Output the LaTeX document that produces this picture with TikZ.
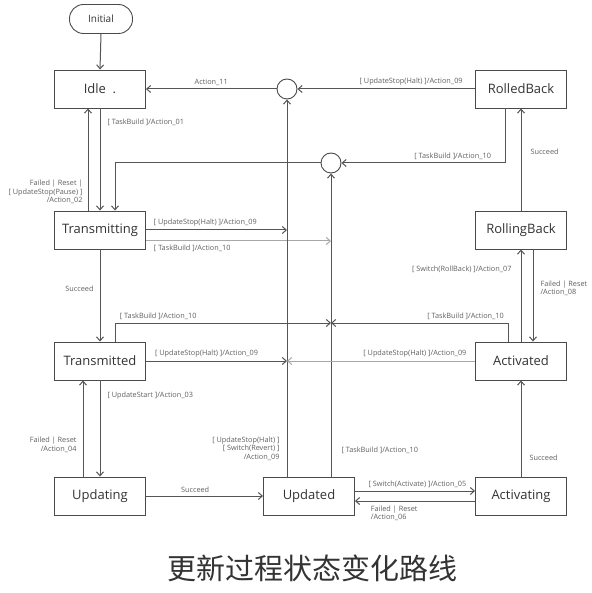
\documentclass[tikz,border=0pt]{standalone}
\usepackage{fontspec}
\setmainfont{Open Sans}
\newfontfamily\cjk{Noto Sans CJK SC}
\usetikzlibrary{arrows.meta}
\definecolor{boxc}{HTML}{4A4A4A}
\definecolor{linec}{HTML}{555555}
\definecolor{lightc}{HTML}{A8A8A8}
\definecolor{txt}{HTML}{333333}
\definecolor{lblc}{HTML}{606060}
\tikzset{
  state/.style={draw=boxc, line width=0.9pt, minimum width=91pt, minimum height=38pt, inner sep=0pt, font=\fontsize{13}{15}\selectfont, text=txt},
  initstate/.style={draw=boxc, line width=0.9pt, rounded corners=14pt, minimum width=63pt, minimum height=29pt, inner sep=0pt, font=\fontsize{10}{12}\selectfont, text=txt},
  junc/.style={circle, draw=boxc, line width=0.9pt, minimum size=20pt, inner sep=0pt},
  conn/.style={draw=linec, line width=1pt, -{Straight Barb[length=4pt,width=7pt]}},
  lightconn/.style={draw=lightc, line width=1pt, -{Straight Barb[length=4pt,width=7pt]}},
  lbl/.style={font=\fontsize{7.3}{8.4}\selectfont, text=lblc, inner sep=1pt}
}
\begin{document}
\begin{tikzpicture}[x=1pt,y=-1pt]
\useasboundingbox (0,0) rectangle (591,593);
\fill[white] (0,0) rectangle (591,593);
% states
\node[initstate] (init) at (101,19) {Initial};
\node[state] (idle) at (100,89) {Idle~~.};
\node[state] (rb) at (521,89) {RolledBack};
\node[state] (tr) at (100,230) {Transmitting};
\node[state] (rolling) at (521,230) {RollingBack};
\node[state] (trd) at (100,361) {Transmitted};
\node[state] (act) at (521,361) {Activated};
\node[state] (ug) at (100,496) {Updating};
\node[state] (upd) at (309,496) {Updated};
\node[state] (acting) at (521,496) {Activating};
\node[junc] (c1) at (287,89) {};
\node[junc] (c2) at (331,163) {};
% junction points on the vertical lines
\coordinate (j1) at (287,230);
\coordinate (j2) at (331,241);
\coordinate (j3) at (331,323);
\coordinate (j5) at (287,361);
% connectors
\draw[conn] (init.south) -- (idle.north);
\draw[conn] (c1.west) -- node[lbl, pos=0.5, above=2pt] {Action\_11} (idle.east);
\draw[conn] (rb.west) -- node[lbl, pos=0.36, above=2pt] {{[} UpdateStop(Halt) ]/Action\_09} (c1.east);
\draw[conn] (idle.south) -- node[lbl, pos=0.14, anchor=west, xshift=6pt] {{[} TaskBuild ]/Action\_01} (tr.north);
\draw[conn] ([xshift=-12pt]tr.north) -- node[lbl, pos=0.18, anchor=east, xshift=-4pt, align=right] {Failed | Reset |\\{[} UpdateStop(Pause) ]\\/Action\_02} ([xshift=-12pt]idle.south);
\draw[conn] ([xshift=-16pt]rb.south) |- node[lbl, pos=0.66, above=2pt] {{[} TaskBuild ]/Action\_10} (c2.east);
\draw[conn] (c2.west) -| ([xshift=15pt]tr.north);
\draw[conn] (tr.east) -- node[lbl, pos=0.42, above=2pt] {{[} UpdateStop(Halt) ]/Action\_09} (j1);
\draw[lightconn] ([yshift=-11pt]tr.east) -- node[lbl, pos=0.25, below=2pt] {{[} TaskBuild ]/Action\_10} (j2);
\draw[conn] ([xshift=-22pt]upd.north) -- node[lbl, pos=0.074, anchor=east, xshift=-6pt, align=right] {{[} UpdateStop(Halt) ]\\{[} Switch(Revert) ]\\/Action\_09} (c1.south);
\draw[conn] ([xshift=22pt]upd.north) -- node[lbl, pos=0.086, anchor=west, xshift=9pt] {{[} TaskBuild ]/Action\_10} (c2.south);
\draw[conn] (tr.south) -- node[lbl, pos=0.43, anchor=east, xshift=-5pt] {Succeed} (trd.north);
\draw[conn] ([xshift=15pt]trd.north) |- node[lbl, pos=0.6, above=2pt] {{[} TaskBuild ]/Action\_10} (j3);
\draw[conn] ([xshift=-13pt]act.north) |- node[lbl, pos=0.62, above=2pt] {{[} TaskBuild ]/Action\_10} (j3);
\draw[conn] (trd.east) -- node[lbl, pos=0.43, above=2pt] {{[} UpdateStop(Halt) ]/Action\_09} (j5);
\draw[lightconn] (act.west) -- node[lbl, pos=0.32, above=2pt] {{[} UpdateStop(Halt) ]/Action\_09} (j5);
\draw[conn] (trd.south) -- node[lbl, pos=0.16, anchor=west, xshift=6pt] {{[} UpdateStart ]/Action\_03} (ug.north);
\draw[conn] ([xshift=-17pt]ug.north) -- node[lbl, pos=0.33, anchor=east, xshift=-5pt, align=right] {Failed | Reset\\/Action\_04} ([xshift=-17pt]trd.south);
\draw[conn] (ug.east) -- node[lbl, pos=0.42, above=2pt] {Succeed} (upd.west);
\draw[conn] ([yshift=5pt]upd.east) -- node[lbl, pos=0.52, above=2pt] {{[} Switch(Activate) ]/Action\_05} ([yshift=5pt]acting.west);
\draw[conn] ([yshift=-5pt]acting.west) -- node[lbl, pos=0.88, anchor=north west, yshift=-3pt, align=left] {Failed | Reset\\/Action\_06} ([yshift=-5pt]upd.east);
\draw[conn] (acting.north) -- node[lbl, pos=0.2, anchor=west, xshift=7pt] {Succeed} (act.south);
\draw[conn] (act.north) -- node[lbl, pos=0.78, anchor=east, xshift=-8pt] {{[} Switch(RollBack) ]/Action\_07} (rolling.south);
\draw[conn] ([xshift=12pt]rolling.south) -- node[lbl, pos=0.42, anchor=west, xshift=6pt, align=left] {Failed | Reset\\/Action\_08} ([xshift=12pt]act.north);
\draw[conn] (rolling.north) -- node[lbl, pos=0.58, anchor=west, xshift=8pt] {Succeed} (rb.south);
% caption
\node[font=\cjk\fontsize{29}{32}\selectfont, text=txt] (cap) at (312,568) {更新过程状态变化路线};
\end{tikzpicture}
\end{document}
